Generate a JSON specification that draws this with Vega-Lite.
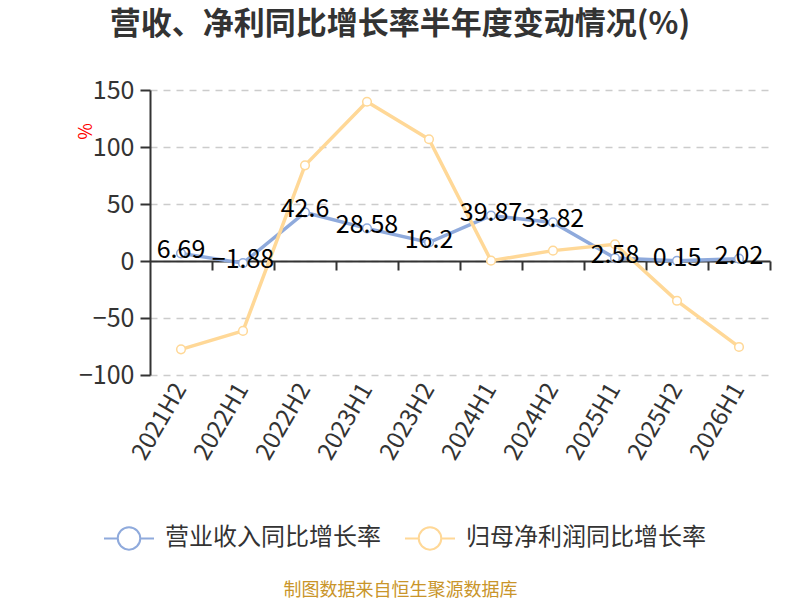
{
  "$schema": "https://vega.github.io/schema/vega-lite/v6.json",
  "autosize": "none",
  "width": 620,
  "height": 285,
  "padding": {"left": 150, "top": 90, "right": 30, "bottom": 225},
  "background": "white",
  "title": {
    "text": "营收、净利同比增长率半年度变动情况(%)",
    "fontSize": 31,
    "fontWeight": "bold",
    "color": "#333333",
    "anchor": "middle",
    "baseline": "middle",
    "offset": 22,
    "dx": -60
  },
  "data": {
    "values": [
      {"period": "2021H2", "series": "营业收入同比增长率", "value": 6.69},
      {"period": "2022H1", "series": "营业收入同比增长率", "value": -1.88},
      {"period": "2022H2", "series": "营业收入同比增长率", "value": 42.6},
      {"period": "2023H1", "series": "营业收入同比增长率", "value": 28.58},
      {"period": "2023H2", "series": "营业收入同比增长率", "value": 16.2},
      {"period": "2024H1", "series": "营业收入同比增长率", "value": 39.87},
      {"period": "2024H2", "series": "营业收入同比增长率", "value": 33.82},
      {"period": "2025H1", "series": "营业收入同比增长率", "value": 2.58},
      {"period": "2025H2", "series": "营业收入同比增长率", "value": 0.15},
      {"period": "2026H1", "series": "营业收入同比增长率", "value": 2.02},
      {"period": "2021H2", "series": "归母净利润同比增长率", "value": -77.5},
      {"period": "2022H1", "series": "归母净利润同比增长率", "value": -61.3},
      {"period": "2022H2", "series": "归母净利润同比增长率", "value": 83.9},
      {"period": "2023H1", "series": "归母净利润同比增长率", "value": 139.7},
      {"period": "2023H2", "series": "归母净利润同比增长率", "value": 106.8},
      {"period": "2024H1", "series": "归母净利润同比增长率", "value": 0.3},
      {"period": "2024H2", "series": "归母净利润同比增长率", "value": 9.1},
      {"period": "2025H1", "series": "归母净利润同比增长率", "value": 14.7},
      {"period": "2025H2", "series": "归母净利润同比增长率", "value": -34.9},
      {"period": "2026H1", "series": "归母净利润同比增长率", "value": -75.4}
    ]
  },
  "layer": [
    {
      "mark": {
        "type": "line",
        "strokeWidth": 3.5,
        "point": {"filled": false, "fill": "white", "size": 75, "strokeWidth": 1.5}
      },
      "encoding": {
        "x": {
          "field": "period",
          "type": "nominal",
          "sort": null,
          "bandPosition": 0.5,
          "scale": {"type": "band", "paddingInner": 0, "paddingOuter": 0},
          "axis": {
            "orient": "bottom",
            "domain": false,
            "ticks": false,
            "grid": false,
            "labelAngle": -60,
            "labelAlign": "right",
            "labelBaseline": "middle",
            "labelPadding": 10,
            "labelFontSize": 24,
            "labelColor": "#333333",
            "title": "制图数据来自恒生聚源数据库",
            "titleColor": "#c9952a",
            "titleFontSize": 18,
            "titleFontWeight": "normal",
            "titleX": 250,
            "titleY": 215,
            "titleAlign": "center",
            "titleBaseline": "middle"
          }
        },
        "y": {
          "field": "value",
          "type": "quantitative",
          "scale": {"domain": [-100, 150], "nice": false},
          "axis": {
            "values": [-100, -50, 0, 50, 100, 150],
            "domain": true,
            "domainColor": "#333333",
            "domainWidth": 2,
            "ticks": true,
            "tickColor": "#333333",
            "tickWidth": 2,
            "tickSize": 10,
            "labelPadding": 6,
            "labelFontSize": 25,
            "labelColor": "#333333",
            "grid": true,
            "gridColor": "#cccccc",
            "gridDash": [7, 6],
            "gridWidth": 1.5,
            "title": "%",
            "titleColor": "red",
            "titleFontSize": 18,
            "titleFontWeight": "normal",
            "titleX": -64,
            "titleY": 41,
            "titleAlign": "center",
            "titleBaseline": "middle"
          }
        },
        "color": {
          "field": "series",
          "type": "nominal",
          "scale": {
            "domain": ["营业收入同比增长率", "归母净利润同比增长率"],
            "range": ["#8faadc", "#ffd897"]
          },
          "legend": {
            "orient": "none",
            "legendX": -47,
            "legendY": 422,
            "direction": "horizontal",
            "columns": 2,
            "title": null,
            "symbolType": "M-1,0L-0.45,0M0.45,0L1,0M0.45,0A0.45,0.45,0,1,1,-0.45,0A0.45,0.45,0,1,1,0.45,0",
            "symbolSize": 2500,
            "symbolStrokeWidth": 2,
            "symbolFillColor": "white",
            "labelFontSize": 24,
            "labelColor": "#333333",
            "labelOffset": 10,
            "labelLimit": 400,
            "columnPadding": 20,
            "padding": 0
          }
        }
      }
    },
    {
      "transform": [{"filter": "datum.series === '营业收入同比增长率'"}],
      "mark": {"type": "text", "fontSize": 25, "color": "black", "baseline": "middle", "dy": -3},
      "encoding": {
        "x": {
          "field": "period",
          "type": "nominal",
          "sort": null,
          "bandPosition": 0.5,
          "axis": {
            "orient": "bottom",
            "offset": -114,
            "labels": false,
            "title": null,
            "grid": false,
            "domain": true,
            "domainColor": "#333333",
            "domainWidth": 2,
            "ticks": true,
            "tickColor": "#333333",
            "tickWidth": 2,
            "tickSize": 9,
            "bandPosition": 1
          }
        },
        "y": {"field": "value", "type": "quantitative"},
        "text": {"field": "value", "type": "quantitative"}
      }
    }
  ],
  "resolve": {"axis": {"x": "independent"}},
  "config": {
    "font": "Noto Sans CJK SC",
    "view": {"stroke": null}
  }
}
